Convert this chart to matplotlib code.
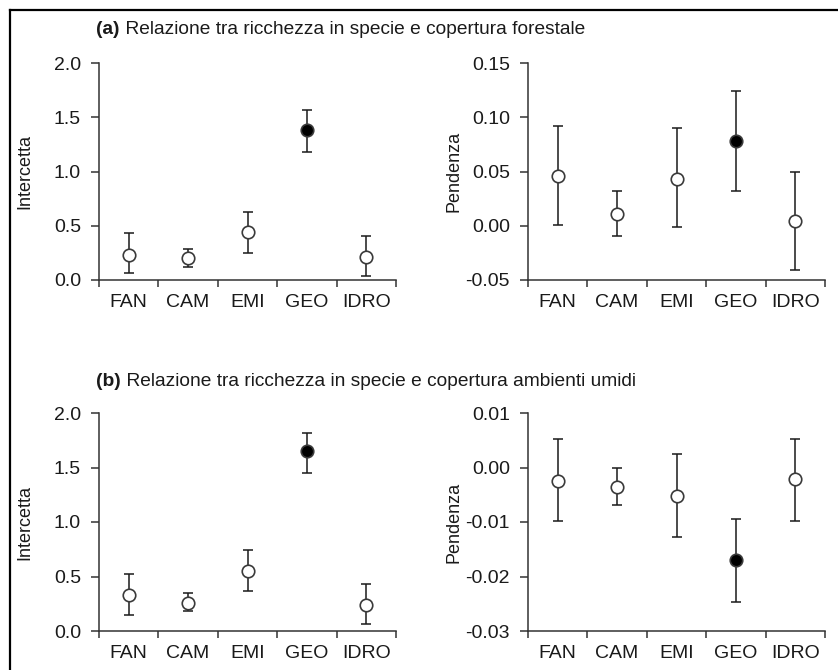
import matplotlib
matplotlib.use("Agg")
import matplotlib.pyplot as plt
from matplotlib.lines import Line2D
import numpy as np

plt.rcParams['font.family'] = ['Liberation Sans', 'DejaVu Sans']

categories = ["FAN", "CAM", "EMI", "GEO", "IDRO"]
filled = [False, False, False, True, False]

# (a) copertura forestale
a_int = [0.23, 0.20, 0.44, 1.38, 0.21]
a_int_lo = [0.06, 0.12, 0.25, 1.18, 0.04]
a_int_hi = [0.43, 0.29, 0.63, 1.57, 0.41]

a_slope = [0.046, 0.011, 0.043, 0.078, 0.004]
a_slope_lo = [0.001, -0.009, -0.001, 0.032, -0.041]
a_slope_hi = [0.092, 0.032, 0.090, 0.124, 0.050]

# (b) copertura ambienti umidi
b_int = [0.33, 0.26, 0.55, 1.65, 0.24]
b_int_lo = [0.15, 0.18, 0.37, 1.45, 0.06]
b_int_hi = [0.52, 0.35, 0.74, 1.82, 0.43]

b_slope = [-0.0025, -0.0036, -0.0053, -0.0170, -0.0022]
b_slope_lo = [-0.0099, -0.0069, -0.0128, -0.0247, -0.0099]
b_slope_hi = [0.0052, 0.0000, 0.0025, -0.0095, 0.0052]

titles = ["Relazione tra ricchezza in specie e copertura forestale",
          "Relazione tra ricchezza in specie e copertura ambienti umidi"]

W, H = 838, 670
fig = plt.figure(figsize=(W / 100, H / 100), dpi=100)


def px_axes(x0, y0, x1, y1):
    return fig.add_axes([x0 / W, 1 - y1 / H, (x1 - x0) / W, (y1 - y0) / H])


def draw_panel(ax, est, lo, hi, ylim, yticks, yfmt, ylabel):
    x = np.arange(len(categories))
    est = np.array(est)
    err = [est - np.array(lo), np.array(hi) - est]
    ax.errorbar(x, est, yerr=err, fmt='none', ecolor='#1a1a1a',
                elinewidth=1.1, capsize=3.3, capthick=1.1, zorder=2)
    for xi, yi, f in zip(x, est, filled):
        ax.plot(xi, yi, 'o', ms=9, mec='#3a3a3a', mew=1.2,
                mfc='black' if f else 'white', zorder=3)
    ax.set_xlim(-0.5, len(categories) - 0.5)
    ax.set_ylim(*ylim)
    ax.set_yticks(yticks)
    ax.set_yticklabels([yfmt.format(v) for v in yticks])
    ax.set_xticks(x)
    ax.set_xticklabels(categories)
    ax.set_xticks(np.arange(len(categories) + 1) - 0.5, minor=True)
    ax.tick_params(axis='x', which='major', length=0, pad=10,
                   labelsize=14, colors='#1a1a1a')
    ax.tick_params(axis='x', which='minor', length=5, width=1.1,
                   color='#333333', direction='out')
    ax.tick_params(axis='y', length=6, width=1.1, pad=7, labelsize=14,
                   color='#333333', labelcolor='#1a1a1a', direction='out')
    for s in ['top', 'right']:
        ax.spines[s].set_visible(False)
    for s in ['left', 'bottom']:
        ax.spines[s].set_color('#333333')
        ax.spines[s].set_linewidth(1.1)
    ax.set_ylabel(ylabel, fontsize=13, color='#1a1a1a')
    ax.yaxis.set_label_coords(-0.22, 0.5)
    ax.patch.set_visible(False)


ax1 = px_axes(99, 63, 396, 280)
ax2 = px_axes(528, 63, 825, 280)
ax3 = px_axes(99, 413, 396, 631)
ax4 = px_axes(528, 413, 825, 631)

draw_panel(ax1, a_int, a_int_lo, a_int_hi, (0, 2.0),
           [0, 0.5, 1.0, 1.5, 2.0], "{:.1f}", "Intercetta")
draw_panel(ax2, a_slope, a_slope_lo, a_slope_hi, (-0.05, 0.15),
           [-0.05, 0.0, 0.05, 0.10, 0.15], "{:.2f}", "Pendenza")
draw_panel(ax3, b_int, b_int_lo, b_int_hi, (0, 2.0),
           [0, 0.5, 1.0, 1.5, 2.0], "{:.1f}", "Intercetta")
draw_panel(ax4, b_slope, b_slope_lo, b_slope_hi, (-0.03, 0.01),
           [-0.03, -0.02, -0.01, 0.0, 0.01], "{:.2f}", "Pendenza")

# panel titles: bold letter followed by normal text
for lab, title, ypx in [("(a)", titles[0], 30), ("(b)", titles[1], 381)]:
    t = fig.text(96 / W, 1 - ypx / H, lab, fontsize=13.8, fontweight='bold',
                 va='center', ha='left', color='#1a1a1a')
    fig.add_artist(plt.Annotation(" " + title, xy=(1, 0), xycoords=t,
                                  va='bottom', ha='left', fontsize=13.8,
                                  color='#1a1a1a'))

# outer frame (only top and left edges visible)
fig.add_artist(Line2D([10 / W, 1], [1 - 10 / H, 1 - 10 / H],
                      transform=fig.transFigure, color='black', lw=1.6))
fig.add_artist(Line2D([10 / W, 10 / W], [0, 1 - 10 / H],
                      transform=fig.transFigure, color='black', lw=1.6))

plt.savefig("out.png", dpi=100)
